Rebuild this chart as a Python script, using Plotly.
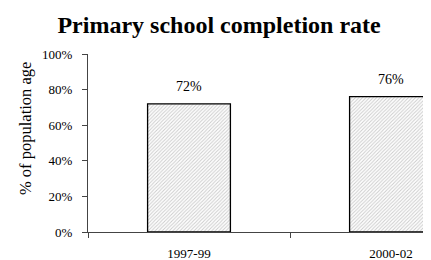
import plotly.graph_objects as go

categories = ["1997-99", "2000-02"]
values = [72, 76]
labels = ["72%", "76%"]
ytick_vals = [0, 20, 40, 60, 80, 100]
ytick_text = ["0%", "20%", "40%", "60%", "80%", "100%"]
y_title = "% of population age"

FONT = "Liberation Serif"

fig = go.Figure()
fig.add_trace(go.Bar(
    x=categories, y=values, width=0.41,
    marker=dict(color="white",
                line=dict(color="black", width=1.3),
                pattern=dict(shape="/", fgcolor="#9a9a9a", bgcolor="white", size=2.5, solidity=0.4)),
    hoverinfo="skip",
))
for c, v, t in zip(categories, values, labels):
    fig.add_annotation(x=c, y=v, text=t, showarrow=False, yanchor="bottom", yshift=8,
                       font=dict(family=FONT, size=14, color="black"))

fig.add_annotation(xref="paper", yref="paper", x=-0.18, y=0.58, xanchor="center", yanchor="middle",
                   text=y_title, textangle=-90, showarrow=False,
                   font=dict(family=FONT, size=16.5, color="black"))

fig.update_layout(
    width=423, height=252,
    margin=dict(l=80, r=0, t=46, b=28),
    paper_bgcolor="white", plot_bgcolor="white",
    showlegend=False,
    title=dict(text="<b>Primary school completion rate</b>", x=0.499, xanchor="center",
               y=0.9325, yanchor="middle",
               font=dict(family=FONT, size=24, color="black")),
    xaxis=dict(type="category", range=[-0.5, 1.198], tickson="boundaries", automargin=False,
               ticks="outside", ticklen=5, tickcolor="#444", showline=True, linecolor="#444",
               linewidth=1, showgrid=False, ticklabelstandoff=9,
               tickfont=dict(family=FONT, size=13, color="black")),
    yaxis=dict(range=[0, 100], tickvals=ytick_vals, ticktext=ytick_text, automargin=False,
               ticks="outside", ticklen=5, tickcolor="#444", showline=True, linecolor="#444",
               linewidth=1, showgrid=False, zeroline=False, ticklabelstandoff=7,
               tickfont=dict(family=FONT, size=13, color="black")),
)
fig.write_html("out.html")
